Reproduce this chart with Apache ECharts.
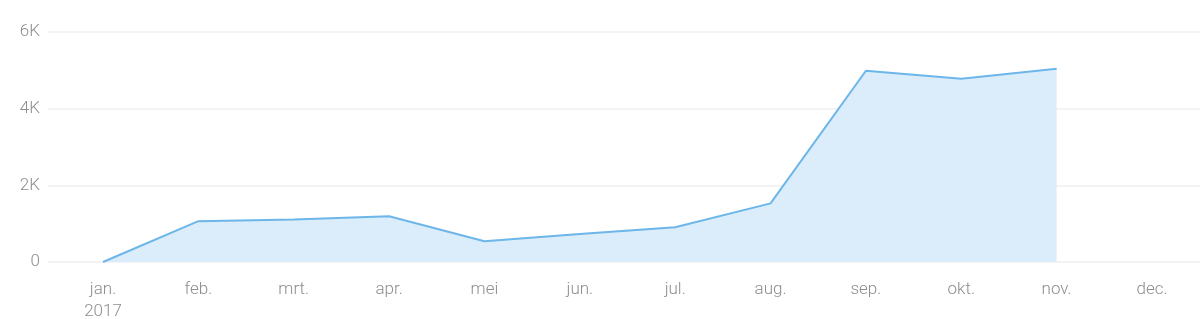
<!DOCTYPE html>
<html>
<head>
<meta charset="utf-8">
<script src="https://cdn.jsdelivr.net/npm/echarts@6/dist/echarts.min.js"></script>
<style>
html,body{margin:0;padding:0;background:#fff;}
#chart{width:1200px;height:319px;}
</style>
</head>
<body>
<div id="chart"></div>
<script>
const categories = ['jan.\n2017','feb.','mrt.','apr.','mei','jun.','jul.','aug.','sep.','okt.','nov.','dec.'];
const values = [0, 1065, 1110, 1195, 540, 730, 905, 1530, 4990, 4780, 5040, null];
const yTicks = [0, 2000, 4000, 6000];

const chart = echarts.init(document.getElementById('chart'), null, {renderer:'canvas'});
const font = "'Helvetica Neue', Roboto, 'Liberation Sans', sans-serif";
const textColor = '#8e8e8e';
const yMax = yTicks[yTicks.length-1];
const yInt = yTicks[1]-yTicks[0];
chart.setOption({
  animation:false,
  backgroundColor:'#ffffff',
  grid:[
    {left:48,right:0,top:32,bottom:57,containLabel:false,outerBoundsMode:'none'},
    {left:103,right:48,top:32,bottom:57,containLabel:false,outerBoundsMode:'none'}
  ],
  xAxis:[
    {gridIndex:0,type:'value',show:false,min:0,max:1},
    {gridIndex:1,type:'category',data:categories,boundaryGap:false,
     axisLine:{show:false},axisTick:{show:false},
     axisLabel:{color:textColor,fontSize:17,fontFamily:font,fontWeight:300,margin:17,lineHeight:22,interval:0}}
  ],
  yAxis:[
    {gridIndex:0,type:'value',min:0,max:yMax,interval:yInt,
     axisLine:{show:false},axisTick:{show:false},
     axisLabel:{color:textColor,fontSize:17,fontFamily:font,fontWeight:300,margin:8,
       formatter:v=>v===0?'0':(v/1000)+'K'},
     splitLine:{show:true,lineStyle:{color:'#efefef',width:1.5}}},
    {gridIndex:1,type:'value',min:0,max:yMax,interval:yInt,show:false,splitLine:{show:false}}
  ],
  series:[{
    type:'line',xAxisIndex:1,yAxisIndex:1,data:values,
    symbol:'none',
    lineStyle:{color:'#6cb6e9',width:2},
    areaStyle:{color:'#dbedfb',opacity:1},
    z:3
  }]
});
</script>
</body>
</html>
